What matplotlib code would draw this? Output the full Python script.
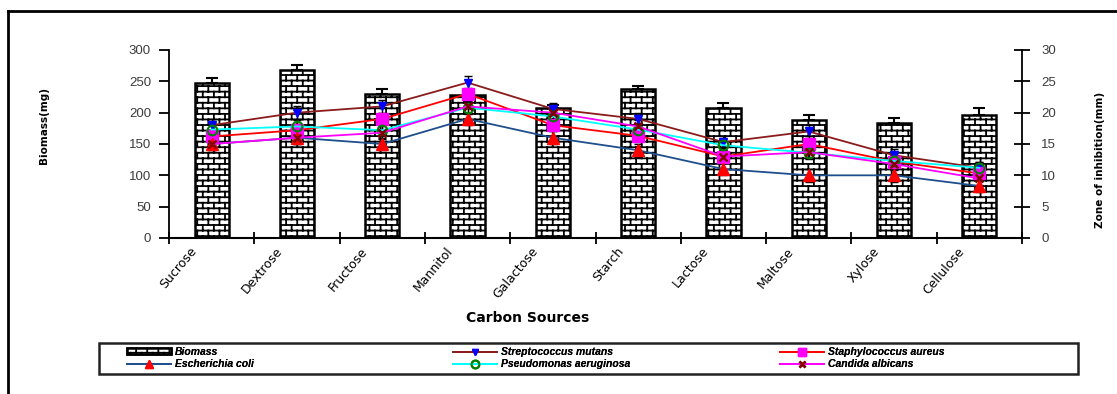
import numpy as np
import matplotlib
matplotlib.use("Agg")
import matplotlib.pyplot as plt
from matplotlib import hatch as mhatch
from matplotlib.path import Path
from matplotlib.lines import Line2D
from matplotlib.patches import Rectangle
import matplotlib.transforms as mtransforms

# ---- data ---------------------------------------------------------------
categories = ['Sucrose', 'Dextrose', 'Fructose', 'Mannitol', 'Galactose',
              'Starch', 'Lactose', 'Maltose', 'Xylose', 'Cellulose']
biomass = [248, 268, 230, 228, 207, 237, 208, 188, 184, 196]
biomass_err = [8, 8, 8, 5, 5, 6, 8, 8, 8, 11]

strep = [18, 20, 21, 24.8, 20.6, 19, 15.3, 17, 13.2, 11.2]
staph = [16.2, 17.2, 19, 23, 18, 16.3, 13, 15, 12.2, 10.3]
ecoli = [15, 16, 15, 19, 16, 14, 11, 10, 10, 8.3]
pseudo = [17.3, 17.8, 17.2, 20.8, 19.4, 17.3, 14.8, 13.6, 12.3, 11.2]
candida = [15, 16, 16.8, 21, 20, 17.8, 13, 13.7, 11.8, 9.5]
zone_err = 1.0


# ---- brick hatch --------------------------------------------------------
class BrickHatch(mhatch.HatchPatternBase):
    """Running-bond brick pattern, one course per density step."""

    def __init__(self, hatch, density):
        self.rows = int(hatch.count('+') * density)
        self.cols = max(self.rows // 2, 1)
        if self.rows:
            self.num_vertices = 2 * (self.rows + (self.rows + 1) * self.cols)
        else:
            self.num_vertices = 0

    def set_vertices_and_codes(self, vertices, codes):
        n, m = self.rows, self.cols
        s = 1.0 / n
        segs = []
        for k in range(n):
            y = k * s + s / 2
            segs.append(((0.0, y), (1.0, y)))
        for k in range(n):
            x0 = (0.25 if k % 2 == 0 else 0.75) / m
            y0 = k * s + s / 2
            y1 = y0 + s
            for j in range(m):
                xv = x0 + j / m
                if y1 <= 1.0:
                    segs.append(((xv, y0), (xv, y1)))
                else:
                    segs.append(((xv, y0), (xv, 1.0)))
                    segs.append(((xv, 0.0), (xv, y1 - 1.0)))
        arr = np.array(segs, dtype=float).reshape(-1, 2)
        vertices[:] = arr
        codes[0::2] = Path.MOVETO
        codes[1::2] = Path.LINETO


mhatch._hatch_types[:] = [BrickHatch]

plt.rcParams['font.family'] = ['Liberation Sans', 'DejaVu Sans']
plt.rcParams['hatch.linewidth'] = 1.3
plt.rcParams['hatch.color'] = 'black'

W, H = 1117, 394
fig = plt.figure(figsize=(W / 100, H / 100), dpi=100)


def fx(px):
    return px / W


def fy(py):
    return 1 - py / H


ax = fig.add_axes([fx(169), fy(238), fx(1022) - fx(169), fy(50) - fy(238)])
ax2 = ax.twinx()

x = np.arange(len(categories))
tick_col = '#3c3c3c'

# biomass bars (left axis)
bars = ax.bar(x, biomass, width=0.4, color='white', edgecolor='black',
              linewidth=1.8, hatch='+++', zorder=2)
ax.errorbar(x, biomass, yerr=[np.zeros(len(x)), biomass_err], fmt='none',
            ecolor='black', elinewidth=1.5, capsize=4, capthick=1.5, zorder=1)

ax.set_xlim(-0.5, len(categories) - 0.5)
ax.set_ylim(0, 300)
ax.set_yticks(np.arange(0, 301, 50))
ax.set_xticks(x)
ax.set_xticks(np.arange(-0.5, len(categories), 1), minor=True)
ax.tick_params(axis='x', which='major', length=0, pad=2)
ax.tick_params(axis='x', which='minor', direction='inout', length=8, width=1.3)
ax.tick_params(axis='y', direction='out', length=7, width=1.3, pad=6,
               labelsize=9.5, labelcolor=tick_col)
for side in ('top', 'right'):
    ax.spines[side].set_visible(False)
ax.spines['left'].set_linewidth(1.3)
ax.spines['bottom'].set_linewidth(1.5)

shift = mtransforms.ScaledTranslation(-22 / 100, -4 / 100, fig.dpi_scale_trans)
ax.set_xticklabels(categories, rotation=50, ha='right', va='top',
                   rotation_mode='anchor', fontsize=9,
                   family=['Liberation Sans Narrow', 'DejaVu Sans'])
for lab in ax.get_xticklabels():
    lab.set_transform(lab.get_transform() + shift)

# zone of inhibition lines (right axis)
series = [
    ('Streptococcus mutans', strep, '#8b1a1a', dict(marker='v', ms=6, mfc='#0000ff', mec='#0000ff')),
    ('Staphylococcus aureus', staph, '#ff0000', dict(marker='s', ms=8, mfc='#ff00ff', mec='#ff00ff')),
    ('Escherichia coli', ecoli, '#1f4e8c', dict(marker='^', ms=8, mfc='#ff0000', mec='#ff0000')),
    ('Pseudomonas aeruginosa', pseudo, '#00ffff', dict(marker='o', ms=7, mfc='none', mec='#008000', mew=1.5)),
    ('Candida albicans', candida, '#ff00ff', dict(marker='x', ms=5.5, mec='#800000', mew=1.8)),
]
handles = {}
for name, vals, col, mk in series:
    ax2.errorbar(x, vals, yerr=zone_err, fmt='none', ecolor='black',
                 elinewidth=1.0, capsize=3, capthick=1.0, zorder=2)
    ln, = ax2.plot(x, vals, color=col, lw=1.3, zorder=3, **mk)
    handles[name] = ln

ax2.set_ylim(0, 30)
ax2.set_yticks(np.arange(0, 31, 5))
ax2.tick_params(axis='y', direction='inout', length=12, width=1.3, pad=8,
                labelsize=9.5, labelcolor=tick_col)
for side in ('top', 'left', 'bottom'):
    ax2.spines[side].set_visible(False)
ax2.spines['right'].set_linewidth(1.3)

# axis titles
fig.text(fx(528), fy(318), 'Carbon Sources', ha='center', va='center',
         fontsize=10, fontweight='bold', family=['DejaVu Sans'])
fig.text(fx(44), fy(125), 'Biomass(mg)', rotation=90, ha='center',
         va='center', fontsize=7.5, fontweight='bold',
         family=['Liberation Sans Narrow', 'DejaVu Sans'])
fig.text(fx(1100), fy(160), 'Zone of inhibition(mm)', rotation=90,
         ha='center', va='center', fontsize=7.5, fontweight='bold',
         family=['Liberation Sans Narrow', 'DejaVu Sans'])

# legend: a framed strip holding three two-row columns
fig.add_artist(Rectangle((fx(99), fy(374)), fx(1078) - fx(99), fy(343) - fy(374),
                         transform=fig.transFigure, fill=False,
                         edgecolor='#222222', linewidth=1.8))
legend_columns = [
    (127, [bars, handles['Escherichia coli']], ['Biomass', 'Escherichia coli']),
    (453, [handles['Streptococcus mutans'], handles['Pseudomonas aeruginosa']],
     ['Streptococcus mutans', 'Pseudomonas aeruginosa']),
    (780, [handles['Staphylococcus aureus'], handles['Candida albicans']],
     ['Staphylococcus aureus', 'Candida albicans']),
]
for left_px, hs, labels in legend_columns:
    lg = fig.legend(hs, labels, loc='upper left',
                    bbox_to_anchor=(fx(left_px), fy(347)),
                    borderaxespad=0, borderpad=0, frameon=False,
                    handlelength=4.2, handleheight=0.5, markerscale=0.8,
                    labelspacing=0.2, handletextpad=0.4,
                    prop=dict(size=7.5, style='italic', weight='bold'))
    fig.add_artist(lg)

# page frame
fig.add_artist(Line2D([fx(8), 1], [fy(11), fy(11)], color='black', lw=2,
                      transform=fig.transFigure))
fig.add_artist(Line2D([fx(8), fx(8)], [0, fy(11)], color='black', lw=2,
                      transform=fig.transFigure))

fig.savefig('out.png', dpi=100)
